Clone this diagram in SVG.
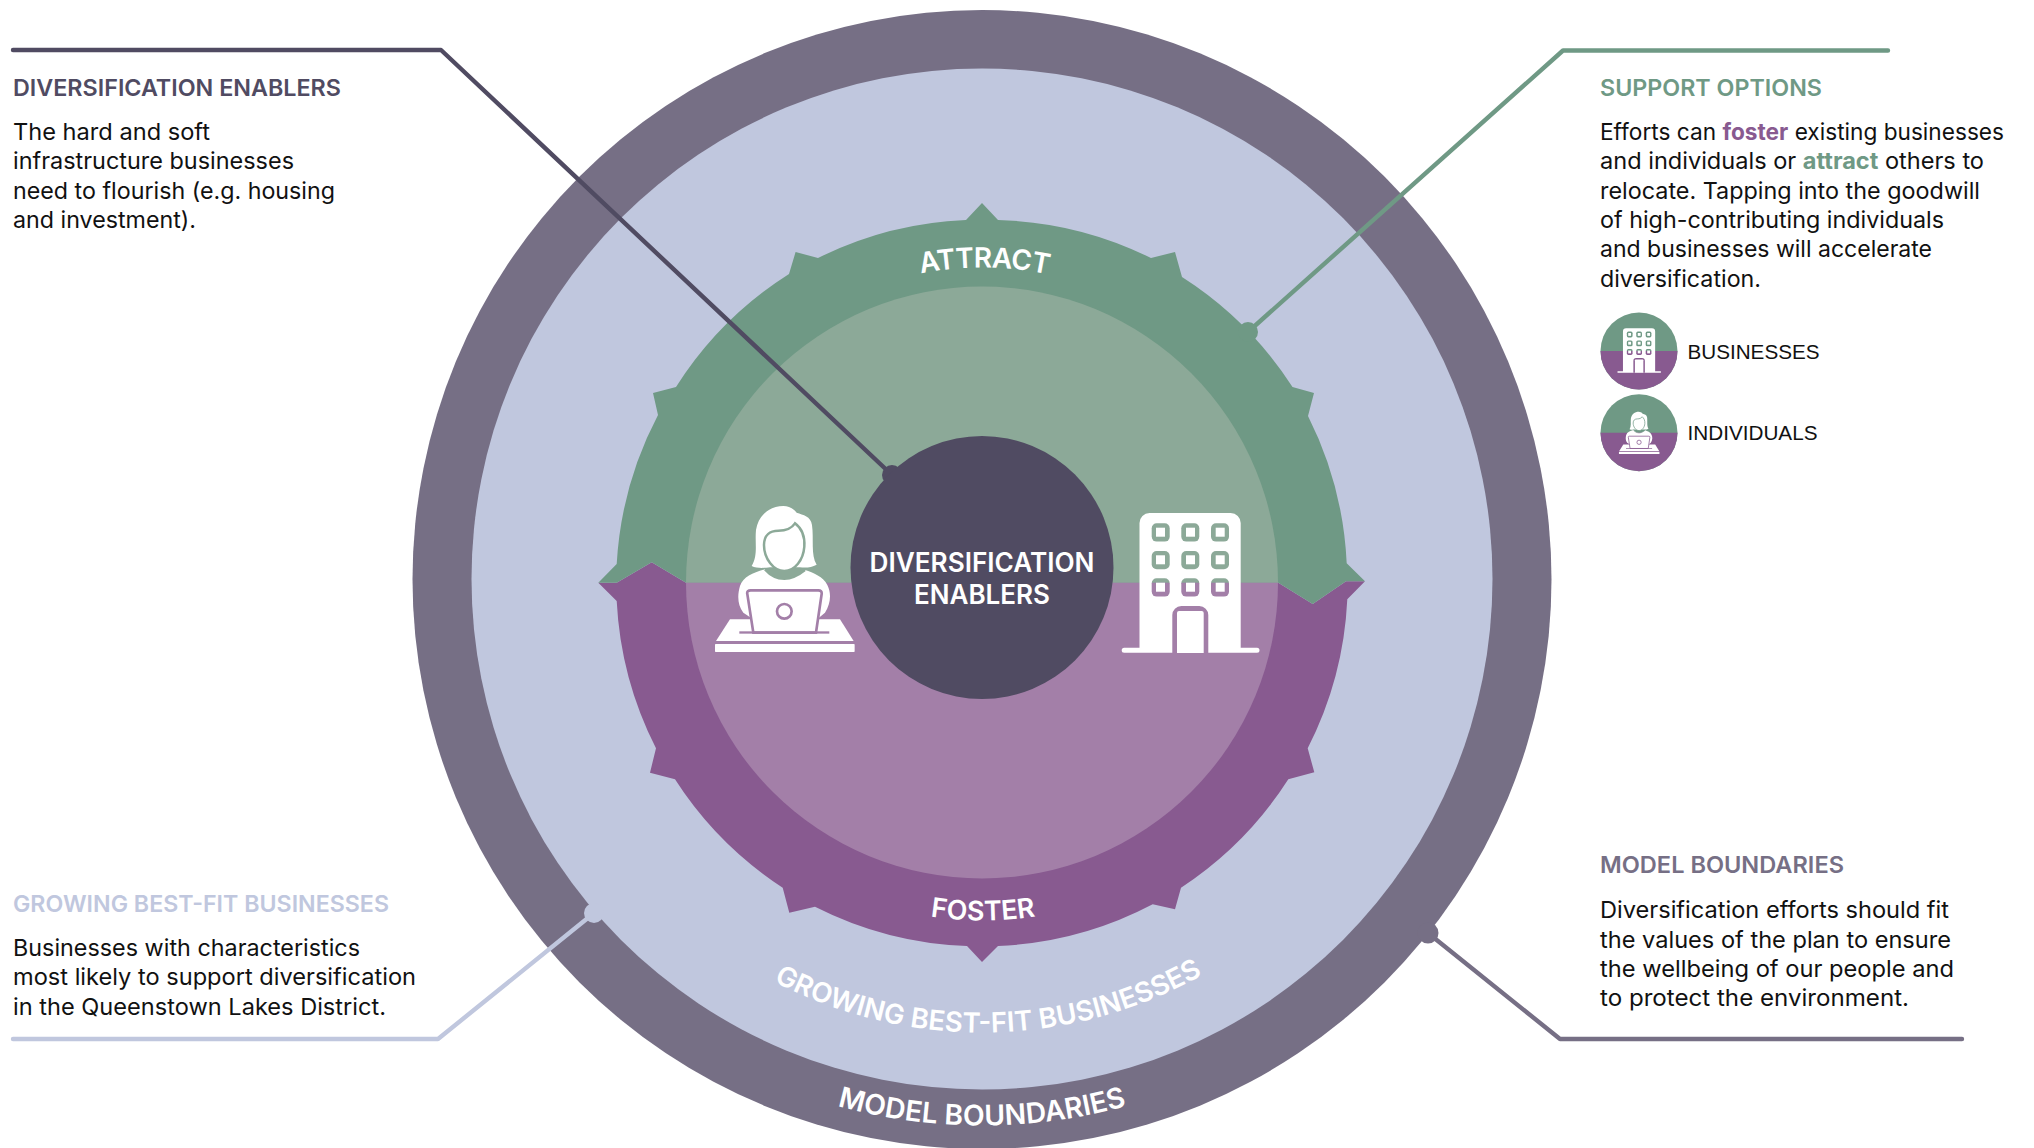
<svg xmlns="http://www.w3.org/2000/svg" width="2034" height="1148" viewBox="0 0 2034 1148">
<style>
text{font-family:"Inter","Liberation Sans",sans-serif}
.h{font-size:23px;font-weight:600}
.b{font-size:23px;fill:#111}
.w{fill:#fff;font-weight:600}
.l{font-family:"Liberation Sans",Arial,sans-serif;font-size:20.5px;fill:#111}
.c{fill:none;stroke-width:4.4;stroke-linecap:round;stroke-linejoin:round}
</style>
<defs>
<path id="a1" d="M667 582.5A315 315 0 0 1 1297 582.5"/>
<path id="a2" d="M644 582.5A338 338 0 0 0 1320 582.5"/>
<path id="a3" d="M532 582.5A450 450 0 0 0 1432 582.5"/>
<path id="a4" d="M439 582.5A543 543 0 0 0 1525 582.5"/>
<clipPath id="top"><rect x="0" y="0" width="2034" height="582.7"/></clipPath>
<clipPath id="bot"><rect x="0" y="582.7" width="2034" height="566"/></clipPath>
<mask id="bm" maskUnits="userSpaceOnUse" x="0" y="0" width="2034" height="1148">
<path fill="#fff" d="M1139.5 647.7V523a10 10 0 0 1 10-10h81.2a10 10 0 0 1 10 10V647.7h16.3a2.5 2.5 0 0 1 0 5H1124.2a2.5 2.5 0 0 1 0-5Z"/>
<g fill="#000">
<rect x="1151.7" y="523.3" width="18" height="18.3" rx="5"/><rect x="1181.3" y="523.3" width="18" height="18.3" rx="5"/><rect x="1211" y="523.3" width="18" height="18.3" rx="5"/>
<rect x="1151.7" y="551" width="18" height="18.3" rx="5"/><rect x="1181.3" y="551" width="18" height="18.3" rx="5"/><rect x="1211" y="551" width="18" height="18.3" rx="5"/>
<rect x="1151.7" y="578.3" width="18" height="18.3" rx="5"/><rect x="1181.3" y="578.3" width="18" height="18.3" rx="5"/><rect x="1211" y="578.3" width="18" height="18.3" rx="5"/>
<path d="M1172.3 653V615a9 9 0 0 1 9-9h18a9 9 0 0 1 9 9V653Z"/>
</g>
<g fill="#fff">
<rect x="1156" y="527.7" width="9" height="9"/><rect x="1186" y="527.7" width="9" height="9"/><rect x="1215.7" y="527.7" width="9" height="9"/>
<rect x="1156" y="555.3" width="9" height="9"/><rect x="1186" y="555.3" width="9" height="9"/><rect x="1215.7" y="555.3" width="9" height="9"/>
<rect x="1156" y="582.7" width="9" height="9"/><rect x="1186" y="582.7" width="9" height="9"/><rect x="1215.7" y="582.7" width="9" height="9"/>
<path d="M1177 653V613a2 2 0 0 1 2-2h22.7a2 2 0 0 1 2 2V653Z"/>
</g>
</mask>
<mask id="pm" maskUnits="userSpaceOnUse" x="0" y="0" width="2034" height="1148">
<g transform="translate(690 480) scale(.3333)">
<path fill="#fff" d="M280 78C240 78 205 105 198 150C194 190 205 225 185 258C200 266 225 264 240 262L330 262C350 264 365 262 380 254C362 225 372 175 366 135C362 108 340 105 320 98C310 85 295 78 280 78Z"/>
<path fill="#fff" d="M225 268C190 278 160 290 150 318C142 345 142 375 160 398L185 415H385L405 398C422 372 425 340 412 315C400 290 370 278 345 270C320 290 300 296 283 296C260 296 240 285 225 268Z"/>
<path fill="none" stroke="#000" stroke-width="7.5" d="M225 268C240 285 260 296 283 296C300 296 320 290 345 270"/>
<path fill="#fff" stroke="#000" stroke-width="7.5" d="M222 195C222 165 240 152 265 152C290 152 305 145 315 130C335 145 345 170 343 200C340 240 315 273 283 273C250 273 222 235 222 195Z"/>
<path fill="#fff" d="M120 418H450L491 483H78Z"/>
<rect x="75" y="492" width="419" height="24" rx="2" fill="#fff"/>
<path fill="#fff" stroke="#000" stroke-width="8" d="M172 342C170 335 175 331 182 331H385C392 331 396 335 395 342L378 458H190Z"/>
<rect x="148" y="454" width="270" height="7" fill="#000"/>
<circle cx="283" cy="394" r="22" fill="none" stroke="#000" stroke-width="8"/>
</g>
</mask>
<g id="building"><rect x="1115" y="505" width="150" height="155" fill="#fff" mask="url(#bm)"/></g>
<g id="person"><rect x="710" y="500" width="150" height="175" fill="#fff" mask="url(#pm)"/></g>
</defs>
<rect width="2034" height="1148" fill="#fff"/>
<g id="outer-ring"><circle cx="982" cy="579.5" r="569.5" fill="#766F85"/></g>
<g id="growing-ring"><circle cx="982" cy="579" r="510.5" fill="#C0C7DE"/></g>
<g id="attract-foster-ring">
<path fill="#885A90" d="M598.3 582.7H616.7L651.7 562.3L686 582.7H1278.3L1312.7 604L1346 581.3H1365L1347.3 599.3A365 365 0 0 1 1307.7 748.3L1314.3 772.3L1288.3 779.3A365 365 0 0 1 1181 887.7L1175 909.3L1152.7 904.3A365 365 0 0 1 998 946L982 962L967 946A365 365 0 0 1 815 906.7L789.3 912.7L782.7 887.7A365 365 0 0 1 675 779.3L650 772.7L656 748.3A365 365 0 0 1 616.7 601Z"/>
<path fill="#6F9985" d="M598.3 582.7L616.7 564A365 365 0 0 1 658 415L653 393L676 387A365 365 0 0 1 789 274L795.6 252L818 258A365 365 0 0 1 966 220L982 203L998 220A365 365 0 0 1 1151 258L1175 252L1182 277A365 365 0 0 1 1292.5 387L1314 393L1308 416A365 365 0 0 1 1346.7 563.3L1365 581.3H1346L1312.7 604L1278.3 582.7H686L651.7 562.3L616.7 582.7Z"/>
<circle cx="982" cy="582.5" r="296" fill="#8CA998" clip-path="url(#top)"/>
<circle cx="982" cy="582.5" r="296" fill="#A37FA8" clip-path="url(#bot)"/>
</g>
<g id="icon-individual"><use href="#person"/></g>
<g id="icon-business"><use href="#building"/></g>
<g id="connectors">
<path class="c" stroke="#504B62" d="M13 50H441L892 475"/>
<path class="c" stroke="#6F9985" d="M1888 50.5H1563L1248 332"/>
<path class="c" stroke="#C0C7DE" d="M13 1039H438L594 913"/>
<path class="c" stroke="#766F85" d="M1962 1039H1560L1428 933"/>
<circle cx="892" cy="475" r="10" fill="#504B62"/>
<circle cx="1248" cy="332" r="10" fill="#6F9985"/>
<circle cx="594" cy="913" r="10" fill="#C0C7DE"/>
<circle cx="1428" cy="933" r="10.5" fill="#766F85"/>
</g>
<g id="center"><circle cx="982" cy="567.5" r="131.5" fill="#504B62"/>
<text class="w" font-size="26.5" text-anchor="middle" x="982" y="572" textLength="225" lengthAdjust="spacingAndGlyphs">DIVERSIFICATION</text>
<text class="w" font-size="26.5" text-anchor="middle" x="982" y="604" textLength="136" lengthAdjust="spacingAndGlyphs">ENABLERS</text></g>
<g id="ring-labels">
<text class="w" font-size="28" letter-spacing="-.5" text-anchor="middle"><textPath href="#a1" startOffset="50.25%">ATTRACT</textPath></text>
<text class="w" font-size="27" text-anchor="middle"><textPath href="#a2" startOffset="50.1%">FOSTER</textPath></text>
<text class="w" font-size="27.6" text-anchor="middle"><textPath href="#a3" startOffset="50.5%">GROWING BEST-FIT BUSINESSES</textPath></text>
<text class="w" font-size="28.3" text-anchor="middle"><textPath href="#a4" startOffset="50%">MODEL BOUNDARIES</textPath></text>
</g>
<g id="note-enablers">
<text class="h" fill="#504B62" x="13" y="96" textLength="328" lengthAdjust="spacingAndGlyphs">DIVERSIFICATION ENABLERS</text>
<text class="b" x="13" y="140" textLength="197" lengthAdjust="spacingAndGlyphs">The hard and soft</text>
<text class="b" x="13" y="169" textLength="281" lengthAdjust="spacingAndGlyphs">infrastructure businesses</text>
<text class="b" x="13" y="199" textLength="322" lengthAdjust="spacingAndGlyphs">need to flourish (e.g. housing</text>
<text class="b" x="13" y="228" textLength="183" lengthAdjust="spacingAndGlyphs">and investment).</text>
</g>
<g id="note-support">
<text class="h" fill="#6F9985" x="1600" y="96" textLength="222" lengthAdjust="spacingAndGlyphs">SUPPORT OPTIONS</text>
<text class="b" x="1600" y="140" textLength="404" lengthAdjust="spacingAndGlyphs">Efforts can <tspan font-weight="700" fill="#885A90">foster</tspan> existing businesses</text>
<text class="b" x="1600" y="169" textLength="384" lengthAdjust="spacingAndGlyphs">and individuals or <tspan font-weight="700" fill="#6F9985">attract</tspan> others to</text>
<text class="b" x="1600" y="199" textLength="380" lengthAdjust="spacingAndGlyphs">relocate. Tapping into the goodwill</text>
<text class="b" x="1600" y="228" textLength="344" lengthAdjust="spacingAndGlyphs">of high-contributing individuals</text>
<text class="b" x="1600" y="257" textLength="332" lengthAdjust="spacingAndGlyphs">and businesses will accelerate</text>
<text class="b" x="1600" y="287" textLength="161" lengthAdjust="spacingAndGlyphs">diversification.</text>
</g>
<g id="legend-businesses">
<circle cx="1639" cy="351" r="38.5" fill="#6F9985"/>
<path d="M1600.5 351a38.5 38.5 0 0 0 77 0Z" fill="#885A90"/>
<use href="#building" transform="translate(1260.6 165.2) scale(.318)"/>
<text class="l" x="1687.5" y="359" textLength="132" lengthAdjust="spacingAndGlyphs">BUSINESSES</text>
</g>
<g id="legend-individuals">
<circle cx="1639" cy="432.7" r="38.5" fill="#6F9985"/>
<path d="M1600.5 432.7a38.5 38.5 0 0 0 77 0Z" fill="#885A90"/>
<use href="#person" transform="translate(1411.6 265) scale(.29)"/>
<text class="l" x="1687.5" y="440" textLength="130" lengthAdjust="spacingAndGlyphs">INDIVIDUALS</text>
</g>
<g id="note-growing">
<text class="h" fill="#C0C7DE" x="13" y="912" textLength="376" lengthAdjust="spacingAndGlyphs">GROWING BEST-FIT BUSINESSES</text>
<text class="b" x="13" y="956" textLength="347" lengthAdjust="spacingAndGlyphs">Businesses with characteristics</text>
<text class="b" x="13" y="985" textLength="403" lengthAdjust="spacingAndGlyphs">most likely to support diversification</text>
<text class="b" x="13" y="1015" textLength="373" lengthAdjust="spacingAndGlyphs">in the Queenstown Lakes District.</text>
</g>
<g id="note-model">
<text class="h" fill="#766F85" x="1600" y="873" textLength="244" lengthAdjust="spacingAndGlyphs">MODEL BOUNDARIES</text>
<text class="b" x="1600" y="918" textLength="349" lengthAdjust="spacingAndGlyphs">Diversification efforts should fit</text>
<text class="b" x="1600" y="947.5" textLength="351" lengthAdjust="spacingAndGlyphs">the values of the plan to ensure</text>
<text class="b" x="1600" y="976.5" textLength="354" lengthAdjust="spacingAndGlyphs">the wellbeing of our people and</text>
<text class="b" x="1600" y="1006" textLength="309" lengthAdjust="spacingAndGlyphs">to protect the environment.</text>
</g>
</svg>
